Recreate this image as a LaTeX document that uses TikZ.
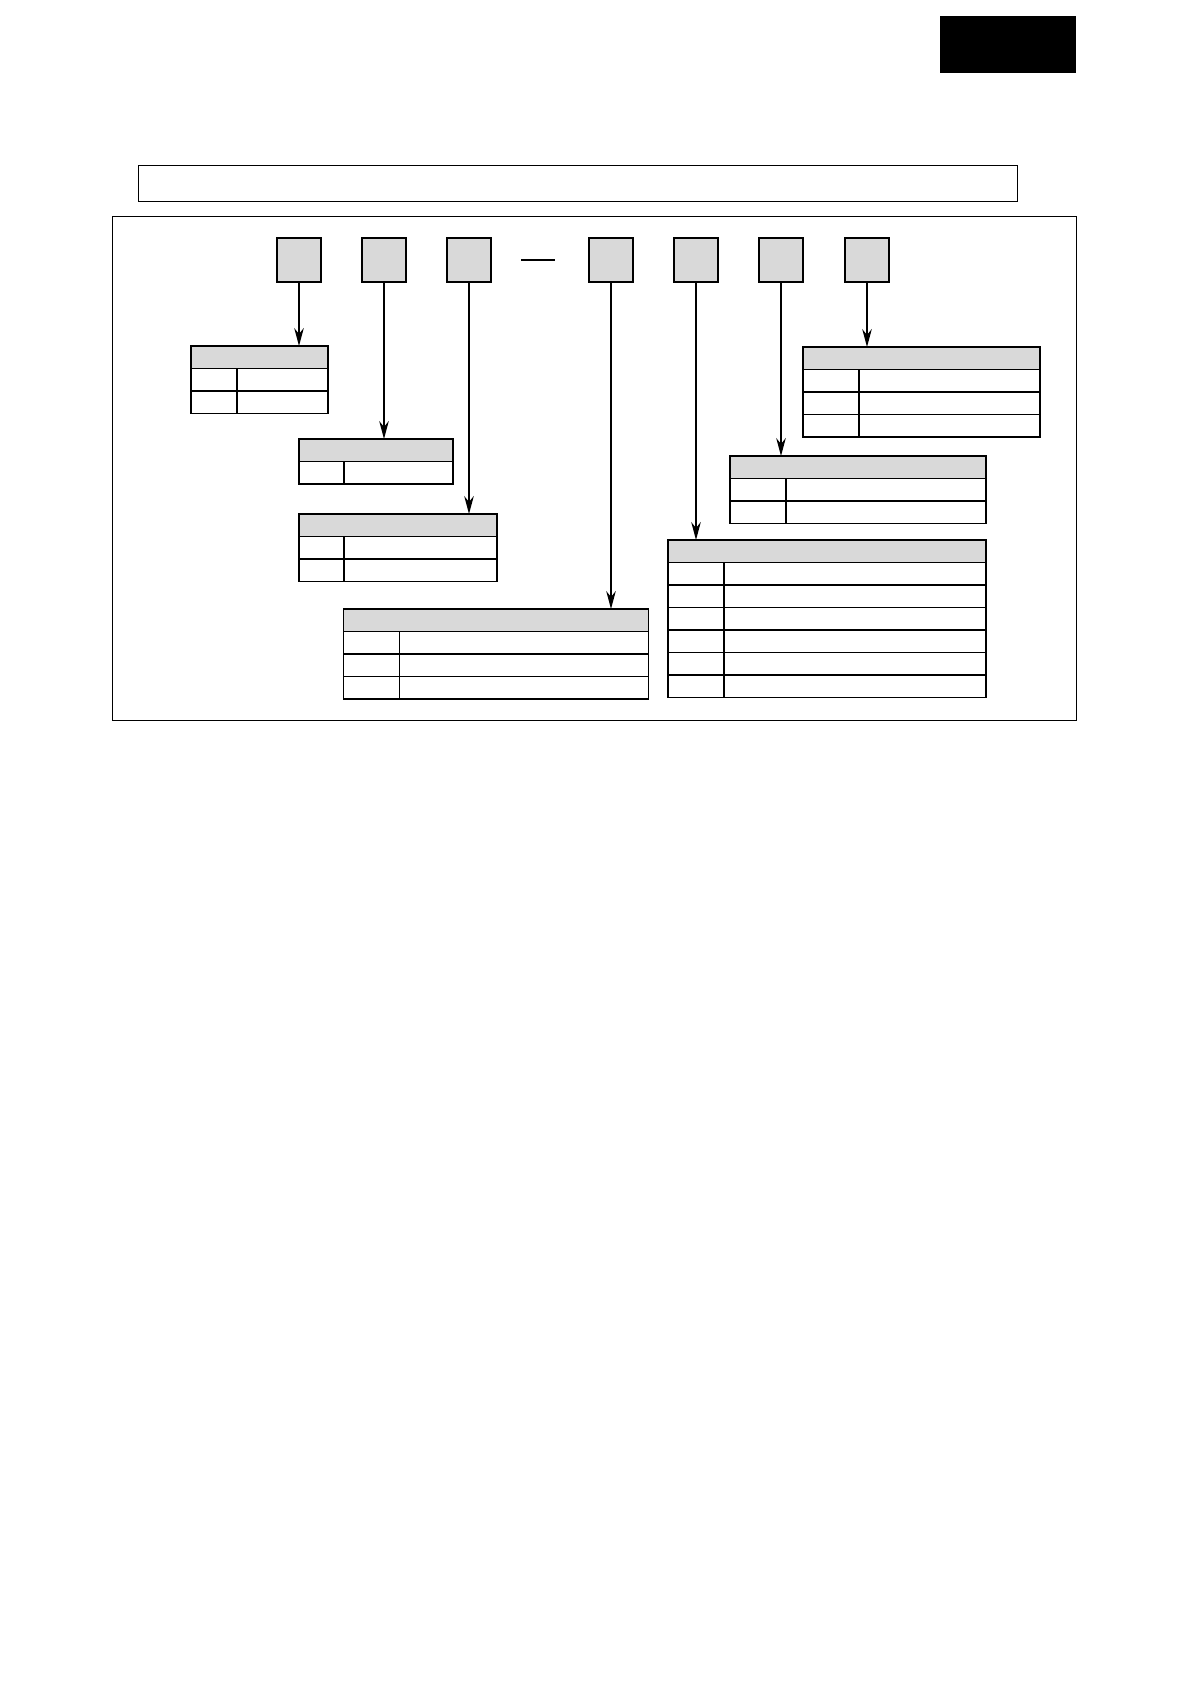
\documentclass[tikz,border=0pt]{standalone}
\usetikzlibrary{arrows.meta}
\tikzset{>={Stealth[length=9pt,width=4.8pt,inset=3pt]}}

% code table: name, left, top, width, key column, rows
\newcommand\codetab[6]{%
  \node[tabhead,minimum width=#4*.5pt,anchor=north west] (#1) at (#2,#3) {};
  \foreach \row in {1,...,#6}{
    \node[tabcell,minimum width=#5*.5pt,anchor=north west] (#1k\row) at (#2,#3+22.5*\row) {};
    \node[tabcell,minimum width=(#4-#5)*.5pt,anchor=north west] (#1v\row) at (#2+#5,#3+22.5*\row) {};
  }
}

\begin{document}
\begin{tikzpicture}[x=.5pt,y=-.5pt]
      \tikzstyle{digit}=[draw,line width=.9pt,fill=gray!30,minimum size=22pt,inner sep=0pt];
      \tikzstyle{tabhead}=[draw,line width=.6pt,fill=gray!30,minimum height=11.25pt,inner sep=0pt,outer sep=0pt];
      \tikzstyle{tabcell}=[draw,line width=.6pt,minimum height=11.25pt,inner sep=0pt,outer sep=0pt];
      \useasboundingbox (0,0) rectangle (1190,1684);
      \fill (940,16) rectangle (1076,73);
      \node[draw,line width=.5pt,minimum width=439.5pt,minimum height=18pt,inner sep=0pt] (title) at (577.5,184) {};
      \node[draw,line width=.5pt,minimum width=482pt,minimum height=251.5pt,inner sep=0pt] (frame) at (594,468.5) {};

      \foreach \n/\x in {1/299,2/384,3/469,4/611,5/696,6/781,7/867}
        \node[digit] (d\n) at (\x,260) {};
      \draw[line width=.8pt] (521,260) -- (555,260);

      \codetab{t1}{191}{346}{137}{46}{2}
      \codetab{t2}{299}{439}{154}{45}{1}
      \codetab{t3}{299}{514}{198}{45}{2}
      \codetab{t4}{343.5}{609}{305}{56}{3}
      \codetab{t5}{668}{540}{318}{56}{6}
      \codetab{t6}{730}{456}{256}{56}{2}
      \codetab{t7}{803}{347}{237}{56}{3}

      \foreach \n in {1,...,7}
        \draw[->,line width=.6pt] (d\n.south) -- (d\n.south |- t\n.north);
    \end{tikzpicture}
\end{document}
